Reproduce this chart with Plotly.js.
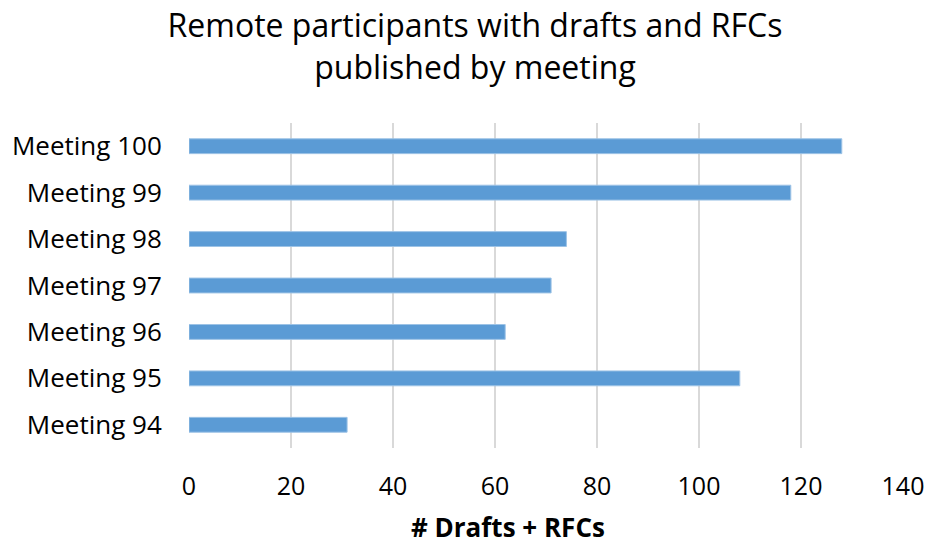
<!DOCTYPE html>
<html>
<head>
<meta charset="utf-8">
<script src="https://cdn.plot.ly/plotly-3.0.1.min.js"></script>
<style>html,body{margin:0;padding:0;background:#fff;}#chart{width:928px;height:545px;}</style>
</head>
<body>
<div id="chart"></div>
<script>
var categories = ["Meeting 94", "Meeting 95", "Meeting 96", "Meeting 97", "Meeting 98", "Meeting 99", "Meeting 100"];
var values = [31, 108, 62, 71, 74, 118, 128];
var tickValues = [0, 20, 40, 60, 80, 100, 120, 140];
var titleText = "Remote participants with drafts and RFCs<br>published by meeting";
var xTitleText = "<b># Drafts + RFCs</b>";

var FONT = "Open Sans, sans-serif";

var trace = {
  type: "bar",
  orientation: "h",
  y: categories,
  x: values,
  marker: {color: "#5B9BD5", line: {color: "#9DC3E6", width: 1}},
  hoverinfo: "x+y"
};

var layout = {
  width: 928,
  height: 545,
  margin: {l: 189, r: 25, t: 123, b: 97},
  paper_bgcolor: "#ffffff",
  plot_bgcolor: "#ffffff",
  showlegend: false,
  bargap: 0.68,
  font: {family: FONT, color: "#000000", size: 26},
  title: {
    text: titleText,
    font: {family: FONT, size: 32, color: "#000000"},
    x: 475 / 928,
    xref: "container",
    xanchor: "center",
    y: 1 - 37 / 545,
    yref: "container",
    yanchor: "middle"
  },
  xaxis: {
    range: [0, 140],
    tickvals: tickValues,
    ticktext: tickValues.map(String),
    showgrid: true,
    gridcolor: "#d9d9d9",
    gridwidth: 2,
    zeroline: false,
    showline: false,
    ticks: "outside",
    ticklen: 16,
    tickcolor: "rgba(0,0,0,0)",
    tickfont: {family: FONT, size: 25, color: "#000000"},
    fixedrange: true
  },
  yaxis: {
    type: "category",
    categoryorder: "array",
    categoryarray: categories,
    showgrid: false,
    zeroline: false,
    showline: false,
    ticks: "outside",
    ticklen: 21,
    tickcolor: "rgba(0,0,0,0)",
    tickfont: {family: FONT, size: 26, color: "#000000"},
    fixedrange: true
  },
  annotations: [{
    text: xTitleText,
    xref: "paper",
    yref: "paper",
    x: (508 - 189) / 714,
    y: -0.243,
    xanchor: "center",
    yanchor: "middle",
    showarrow: false,
    font: {family: FONT, size: 26, color: "#000000"}
  }]
};

Plotly.newPlot("chart", [trace], layout, {displayModeBar: false, staticPlot: true});
</script>
</body>
</html>
